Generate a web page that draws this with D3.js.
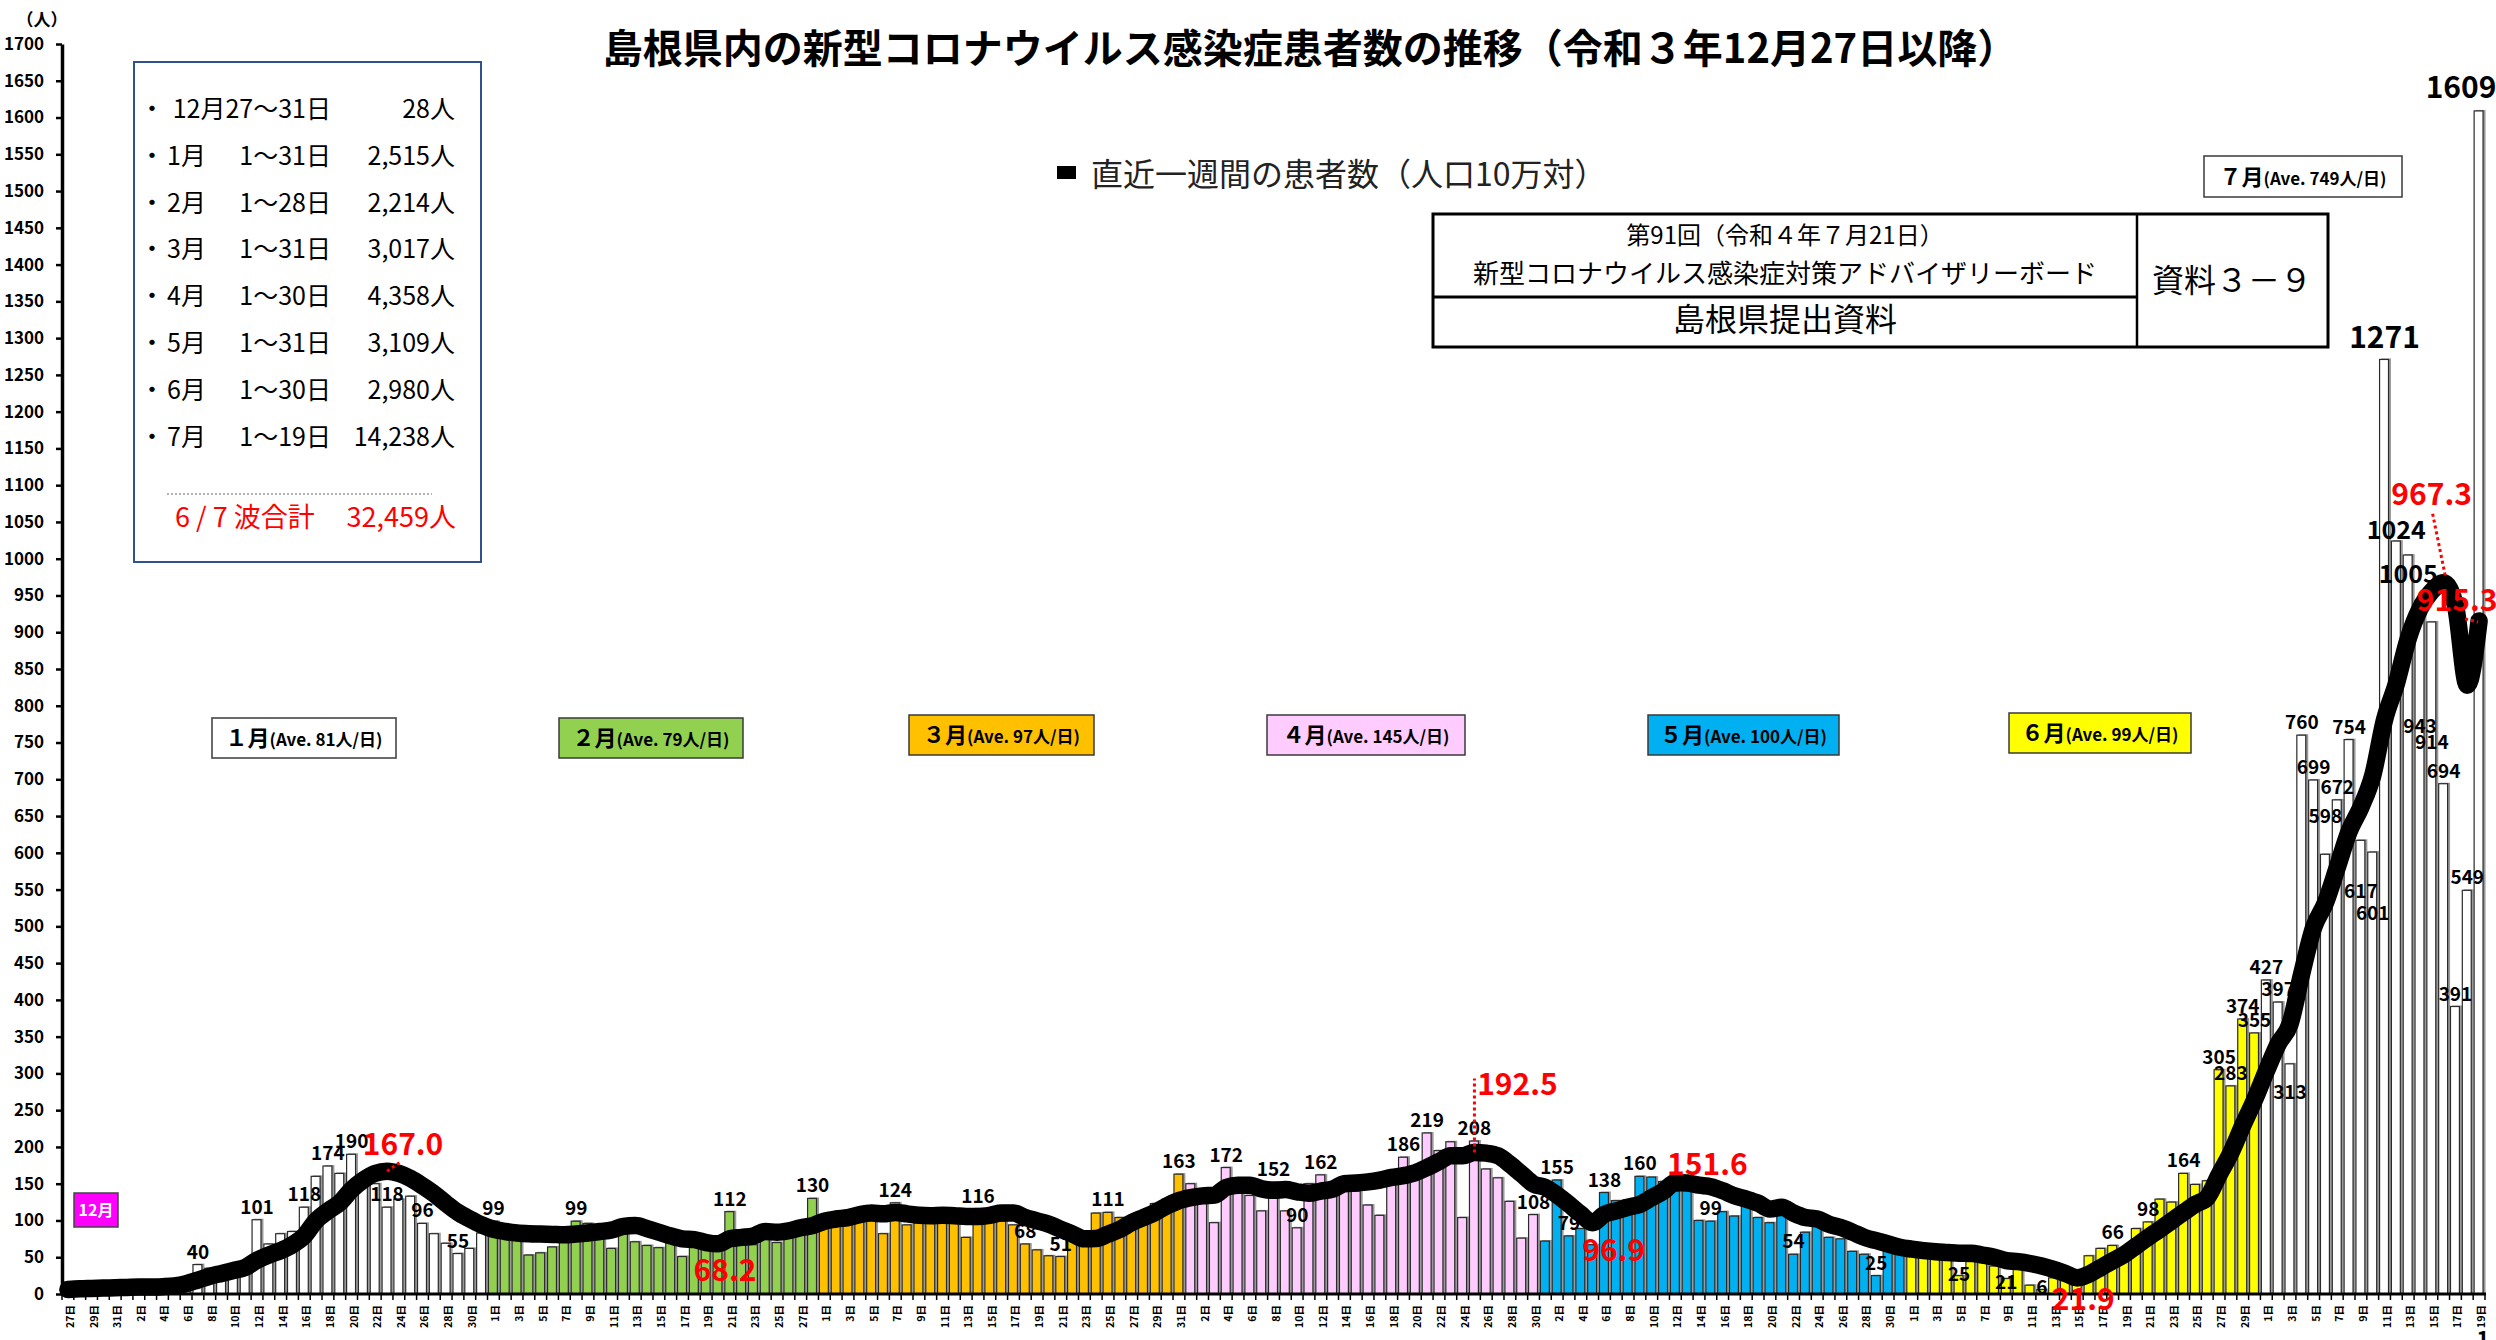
<!DOCTYPE html>
<html><head><meta charset="utf-8">
<script src="https://cdn.jsdelivr.net/npm/d3@7/dist/d3.min.js"></script>
<style>
html,body{margin:0;padding:0;background:#fff;}
svg{display:block;}
text{font-family:"Noto Sans CJK JP","Noto Sans",sans-serif;}
</style></head><body>
<svg id="chart" width="2496" height="1340" viewBox="0 0 2496 1340"></svg>
<script>
// ================= DATA =================
const months   = [12, 1, 2, 3, 4, 5, 6, 7];
const firstDay = [27, 1, 1, 1, 1, 1, 1, 1];

// daily new cases (人)
const casesDec = [4,7,6,5,6];
const casesJan = [8,6,9,15,20,22,40,35,25,28,30,101,68,82,85,118,160,174,164,190,158,150,118,129,133,96,82,69,55,62,83];
const casesFeb = [99,85,88,53,56,64,82,99,96,85,62,88,71,66,63,80,51,70,66,64,112,80,67,82,70,91,94,130];
const casesMar = [96,100,104,106,108,82,124,94,100,96,102,98,77,116,100,99,94,68,60,52,51,82,85,110,111,104,88,95,123,129,163];
const casesApr = [150,135,97,172,150,134,113,152,113,90,150,162,150,150,140,121,107,150,186,165,219,195,207,104,208,170,158,126,76,108];
const casesMay = [72,155,79,89,67,138,127,128,160,159,153,140,147,100,99,112,106,125,104,97,110,54,84,95,77,75,58,54,25,62,58];
const casesJun = [55,52,48,46,25,44,43,38,21,35,12,6,22,35,33,52,62,66,60,89,98,129,125,164,149,154,305,283,374,355];
const casesJul = [427,397,313,760,699,598,672,754,617,601,1271,1024,1005,943,914,694,391,549,1609];

// 直近一週間の患者数（人口10万対）
const avgDec = [6,7,7.5,8,8.5];
const avgJan = [9,9.5,9.5,10,11,14,19,24,28,32,36,46,53,59,67,79,100,113,124,142,155,164,167,164,157,147,136,123,111,102,94];
const avgFeb = [88,85,83,82,81.5,81,80.5,81.5,83,85,87,92,93,89,84,79,75,74,70,68.2,75,77,79,85,84,86,90,93];
const avgMar = [99,102,104,108,110,109,111,109,107,106.5,107,106.5,105.5,105.5,107,110,110,104,99.5,95,88,81.5,75,75.5,81.5,88,97,104,111,120,127];
const avgApr = [131,133.5,134.5,145,148,148,143,141,142,139,137,140,142.5,150,151,152.5,155,158.5,161,165,172,180,188,188,192.5,191.5,188,176.5,163,149.5];
const avgMay = [145,134.5,122,108.5,96.9,108.5,113,118,122,131,140,151.6,151,148,146,140.5,133.5,129,123.5,115.5,118,110,104,102,95,90.5,84,77,72.5,68,63.5];
const avgJun = [61,59,57.5,56.5,55.5,55.5,53,50,45.5,44,41.5,38,33.5,28,21.9,27,36,45,54,65.5,77,88,99.5,111,122,131,162,192,229,264];
const avgJul = [303,340,367,436,498.5,532,580,629,662,705,781,830,891,932,956,967.3,936,828,915.3];

// days whose bar carries a value label
const labelDays = [
  [],
  [7,12,16,18,20,23,26,29],
  [1,8,21,28],
  [7,14,18,21,25,31],
  [4,8,10,12,19,21,25,30],
  [2,3,6,9,15,22,29],
  [5,9,12,18,21,24,27,28,29,30],
  [1,2,3,4,5,6,7,8,9,10,11,12,13,14,15,16,17,18,19]
];

const yTickValues = [0,50,100,150,200,250,300,350,400,450,500,550,600,650,700,750,800,850,900,950,1000,1050,1100,1150,1200,1250,1300,1350,1400,1450,1500,1550,1600,1650,1700];

// monthly summary
const sumMonths = ["12月","1月","2月","3月","4月","5月","6月","7月"];
const sumRanges = ["27～31日","1～31日","1～28日","1～31日","1～30日","1～31日","1～30日","1～19日"];
const sumTotals = ["28人","2,515人","2,214人","3,017人","4,358人","3,109人","2,980人","14,238人"];
const waveTotal = "32,459人";

// monthly average per day
const aveMonths = ["１月","２月","３月","４月","５月","６月","７月"];
const aveValues = [81,79,97,145,100,99,749];

// peak / trough annotations (month, day, text)
const annMonth = [1,2,4,5,5,6,7,7];
const annDay   = [23,20,25,5,12,15,16,19];
const annText  = ["167.0","68.2","192.5","96.9","151.6","21.9","967.3","915.3"];

// ================= STYLE / LAYOUT =================
const cases = [casesDec,casesJan,casesFeb,casesMar,casesApr,casesMay,casesJun,casesJul];
const avg   = [avgDec,avgJan,avgFeb,avgMar,avgApr,avgMay,avgJun,avgJul];
const monthColors = ["#FFFFFF","#FFFFFF","#92D050","#FFC000","#FFCCFF","#00B0F0","#FFFF00","#FFFFFF"];
const RED = "#FF0000";

const rows = [];
months.forEach((m, mi) => {
  cases[mi].forEach((v, k) => {
    const d = firstDay[mi] + k;
    rows.push({ i: rows.length, m, d, v, a: avg[mi][k], mi, lab: labelDays[mi].includes(d) });
  });
});
const N = rows.length;
const idxOf = (m, d) => rows.findIndex(r => r.m === m && r.d === d);

const svg = d3.select("#chart");
const x = d3.scaleBand().domain(d3.range(N)).range([62, 2485]).paddingInner(0.16).paddingOuter(0.08);
const y = d3.scaleLinear().domain([0, 1700]).range([1294, 44]);
const bw = x.bandwidth();
const cx = i => x(i) + bw / 2;

// ---------- title ----------
svg.append("text").attr("x", 1310).attr("y", 63).attr("text-anchor", "middle")
  .attr("font-size", 40).attr("font-weight", 700).attr("fill", "#000")
  .text("島根県内の新型コロナウイルス感染症患者数の推移（令和３年12月27日以降）");

// ---------- bars ----------
const gBars = svg.append("g");
gBars.selectAll("rect.sh").data(rows).join("rect").attr("class", "sh")
  .attr("x", d => x(d.i) + 1.5).attr("width", bw)
  .attr("y", d => y(d.v) - 1).attr("height", d => y(0) - y(d.v) + 1)
  .attr("fill", "#9a9a9a");
gBars.selectAll("rect.bar").data(rows).join("rect").attr("class", "bar")
  .attr("x", d => x(d.i)).attr("width", bw - 1)
  .attr("y", d => y(d.v)).attr("height", d => y(0) - y(d.v))
  .attr("fill", d => monthColors[d.mi]).attr("stroke", "#2a2a2a").attr("stroke-width", 1.2);

// ---------- axes ----------
const gy = svg.append("g").attr("transform", "translate(62,0)")
  .call(d3.axisLeft(y).tickValues(yTickValues).tickFormat(d3.format("d")).tickSize(6).tickSizeOuter(0).tickPadding(12));
gy.select(".domain").attr("stroke", "#000").attr("stroke-width", 3.5);
gy.selectAll(".tick line").attr("stroke", "#000").attr("stroke-width", 2.5);
gy.selectAll(".tick text").attr("font-family", "'Liberation Sans', Arial, sans-serif")
  .attr("font-weight", 700).attr("font-size", 17).attr("fill", "#000");

svg.append("text").attr("x", 42).attr("y", 26).attr("text-anchor", "middle")
  .attr("font-size", 17).attr("font-weight", 700).text("（人）");

svg.append("line").attr("x1", 61).attr("x2", 2486).attr("y1", 1294).attr("y2", 1294)
  .attr("stroke", "#000").attr("stroke-width", 3);
const step = x.step();
const gxt = svg.append("g");
d3.range(N + 1).forEach(i => {
  const xb = x(0) - step * x.paddingInner() / 2 + i * step;
  gxt.append("line").attr("x1", xb).attr("x2", xb).attr("y1", 1294).attr("y2", 1300)
    .attr("stroke", "#000").attr("stroke-width", 1.5);
});
svg.append("g").selectAll("text").data(rows.filter(r => r.i % 2 === 0)).join("text")
  .attr("transform", d => `translate(${cx(d.i) + 1.5},1305) rotate(-90)`)
  .attr("text-anchor", "end").attr("dominant-baseline", "central")
  .attr("font-size", 10.5).attr("font-weight", 700).attr("fill", "#000")
  .text(d => d.d + "日");
svg.append("text").attr("x", 2483).attr("y", 1347).attr("text-anchor", "middle")
  .attr("font-size", 22).attr("font-weight", 700).text("1");

// ---------- value labels ----------
const labelSize = v => v >= 1200 ? 30 : (v >= 1000 ? 25 : 19);
const labelShift = {"6-5": 11, "6-9": 16, "6-12": 10, "7-3": 41, "7-6": -25, "7-9": 64, "7-10": 74,
  "7-11": -5, "7-12": 4, "7-13": 34, "7-14": 138, "7-15": 133, "7-19": -7};
const labelShiftX = {"7-19": -18};
svg.append("g").selectAll("text").data(rows.filter(r => r.lab)).join("text")
  .attr("x", d => cx(d.i) + (labelShiftX[d.m + "-" + d.d] || 0))
  .attr("y", d => y(d.v) - 6 + (labelShift[d.m + "-" + d.d] || 0))
  .attr("text-anchor", "middle").attr("font-size", d => labelSize(d.v)).attr("font-weight", 700)
  .attr("fill", "#000").text(d => d.v);

// ---------- 7-day line ----------
const line = d3.line().x(d => cx(d.i)).y(d => y(d.a)).curve(d3.curveMonotoneX);
svg.append("path").datum(rows).attr("d", line).attr("fill", "none").attr("stroke", "#000")
  .attr("stroke-width", 17.5).attr("stroke-linejoin", "round").attr("stroke-linecap", "round");

// ---------- red annotations ----------
const annOffset = [[16,-29],[7,24],[43,-70],[21,25],[32,-21],[6,19],[-12,-91],[-22,-23]];
annText.forEach((t, k) => {
  const i = idxOf(annMonth[k], annDay[k]);
  const px = cx(i), py = y(rows[i].a);
  svg.append("text").attr("x", px + annOffset[k][0]).attr("y", py + annOffset[k][1])
    .attr("text-anchor", "middle").attr("dominant-baseline", "central")
    .attr("font-size", 30).attr("font-weight", 700).attr("fill", RED).text(t);
});
const dotted = (x1, y1, x2, y2) => svg.append("line").attr("x1", x1).attr("y1", y1).attr("x2", x2).attr("y2", y2)
  .attr("stroke", RED).attr("stroke-width", 3).attr("stroke-dasharray", "3,3");
{
  let i = idxOf(1, 23); dotted(cx(i), y(rows[i].a), cx(i) + 13, y(rows[i].a) - 9);
  i = idxOf(4, 25); dotted(cx(i), y(rows[i].a), cx(i), y(rows[i].a) - 74);
  i = idxOf(7, 16); dotted(cx(i) - 11, y(rows[i].a) - 69, cx(i) + 2, y(rows[i].a) - 5);
  i = idxOf(7, 19); dotted(cx(i) - 14, y(rows[i].a) - 2, cx(i) - 1, y(rows[i].a) + 1);
}

// ---------- month average boxes ----------
const boxLayout = [
  [212, 718, 184, 40], [559, 718, 184, 40], [909, 715, 185, 40], [1267, 715, 198, 40],
  [1648, 715, 191, 40], [2009, 713, 182, 40], [2204, 156, 198, 41]
];
const boxFill = ["#FFFFFF","#92D050","#FFC000","#FFCCFF","#00B0F0","#FFFF00","#FFFFFF"];
aveMonths.forEach((mName, k) => {
  const [bx, by, bwid, bh] = boxLayout[k];
  svg.append("rect").attr("x", bx).attr("y", by).attr("width", bwid).attr("height", bh)
    .attr("fill", boxFill[k]).attr("stroke", "#3a3a3a").attr("stroke-width", 1.5);
  const t = svg.append("text").attr("x", bx + bwid / 2).attr("y", by + bh / 2 + 8)
    .attr("text-anchor", "middle").attr("font-weight", 700).attr("fill", "#000");
  t.append("tspan").attr("font-size", 22).text(mName);
  t.append("tspan").attr("font-size", 17).text(`(Ave. ${aveValues[k]}人/日)`);
});
svg.append("rect").attr("x", 74).attr("y", 1193).attr("width", 44).attr("height", 34)
  .attr("fill", "#FF00FF").attr("stroke", "#444").attr("stroke-width", 1.5);
svg.append("text").attr("x", 96).attr("y", 1216).attr("text-anchor", "middle")
  .attr("font-size", 16).attr("font-weight", 700).attr("fill", "#fff").text("12月");

// ---------- legend ----------
svg.append("rect").attr("x", 1057).attr("y", 166).attr("width", 19).attr("height", 13).attr("fill", "#000");
svg.append("text").attr("x", 1091).attr("y", 186).attr("font-size", 32).attr("fill", "#222")
  .text("直近一週間の患者数（人口10万対）");

// ---------- info box ----------
const ib = svg.append("g");
ib.append("rect").attr("x", 1433).attr("y", 214).attr("width", 895).attr("height", 133)
  .attr("fill", "#fff").attr("stroke", "#000").attr("stroke-width", 3);
ib.append("line").attr("x1", 2137).attr("x2", 2137).attr("y1", 214).attr("y2", 347).attr("stroke", "#000").attr("stroke-width", 2.5);
ib.append("line").attr("x1", 1433).attr("x2", 2137).attr("y1", 297).attr("y2", 297).attr("stroke", "#000").attr("stroke-width", 3);
ib.append("text").attr("x", 1785).attr("y", 244).attr("text-anchor", "middle").attr("font-size", 24).text("第91回（令和４年７月21日）");
ib.append("text").attr("x", 1785).attr("y", 283).attr("text-anchor", "middle").attr("font-size", 26).text("新型コロナウイルス感染症対策アドバイザリーボード");
ib.append("text").attr("x", 1785).attr("y", 331).attr("text-anchor", "middle").attr("font-size", 32).text("島根県提出資料");
ib.append("text").attr("x", 2232).attr("y", 292).attr("text-anchor", "middle").attr("font-size", 32).text("資料３－９");

// ---------- summary box ----------
const sb = svg.append("g");
sb.append("rect").attr("x", 134).attr("y", 62).attr("width", 347).attr("height", 500)
  .attr("fill", "#fff").attr("stroke", "#2F528F").attr("stroke-width", 2);
sumMonths.forEach((mName, k) => {
  const by = 118 + k * 46.8;
  sb.append("text").attr("x", 152).attr("y", by).attr("text-anchor", "middle").attr("font-size", 25).text("・");
  if (k === 0) {
    sb.append("text").attr("x", 331).attr("y", by).attr("text-anchor", "end").attr("font-size", 25).text(mName + sumRanges[k]);
  } else {
    sb.append("text").attr("x", 167).attr("y", by).attr("font-size", 25).text(mName);
    sb.append("text").attr("x", 331).attr("y", by).attr("text-anchor", "end").attr("font-size", 25).text(sumRanges[k]);
  }
  sb.append("text").attr("x", 455).attr("y", by).attr("text-anchor", "end").attr("font-size", 25).text(sumTotals[k]);
});
sb.append("line").attr("x1", 167).attr("x2", 432).attr("y1", 494).attr("y2", 494)
  .attr("stroke", "#999").attr("stroke-width", 1.5).attr("stroke-dasharray", "2,2");
sb.append("text").attr("x", 175).attr("y", 527).attr("font-size", 27).attr("fill", RED).text("6 / 7 波合計");
sb.append("text").attr("x", 456).attr("y", 527).attr("text-anchor", "end").attr("font-size", 27).attr("fill", RED).text(waveTotal);
</script>
</body></html>
